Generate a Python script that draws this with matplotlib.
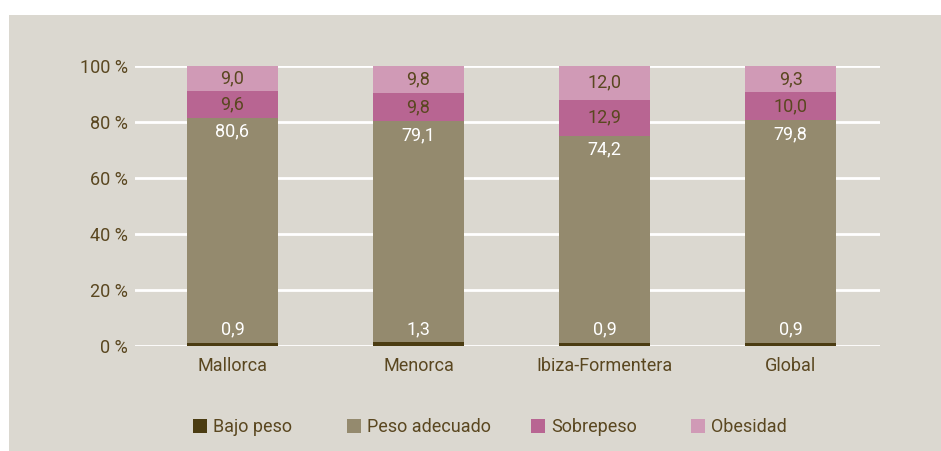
import numpy as np
import matplotlib.pyplot as plt
from matplotlib.patches import Rectangle, Patch

plt.rcParams['font.family'] = ['Roboto', 'DejaVu Sans']

islas = ['Mallorca', 'Menorca', 'Ibiza-Formentera', 'Global']
bajo_peso = [0.9, 1.3, 0.9, 0.9]
peso_adecuado = [80.6, 79.1, 74.2, 79.8]
sobrepeso = [9.6, 9.8, 12.9, 10.0]
obesidad = [9.0, 9.8, 12.0, 9.3]
series = ['Bajo peso', 'Peso adecuado', 'Sobrepeso', 'Obesidad']

colores = ['#4b3c12', '#948a6e', '#b86592', '#d09ab6']
txt = '#5a4720'
fondo = '#dbd8d0'

fig = plt.figure(figsize=(9.41, 4.51), dpi=100, facecolor='white')
fig.patches.append(Rectangle((9 / 941, 0), 1, 1 - 15 / 451, transform=fig.transFigure,
                             facecolor=fondo, edgecolor='none', zorder=-10))

ax = fig.add_axes([135 / 941, 105 / 451, 745 / 941, 280 / 451])
ax.set_facecolor(fondo)
ax.patch.set_alpha(0)

x = np.arange(len(islas))
w = 0.49
vals = [bajo_peso, peso_adecuado, sobrepeso, obesidad]
bottom = np.zeros(len(islas))
for v, c in zip(vals, colores):
    ax.bar(x, v, w, bottom=bottom, color=c, zorder=3)
    bottom = bottom + np.array(v)

fs = 13
for i in range(len(islas)):
    b, p, s, o = bajo_peso[i], peso_adecuado[i], sobrepeso[i], obesidad[i]
    ax.text(x[i], 6, f'{b:.1f}'.replace('.', ','), ha='center', va='center',
            color='white', fontsize=fs, zorder=4)
    ax.text(x[i], b + p - 5, f'{p:.1f}'.replace('.', ','), ha='center', va='center',
            color='white', fontsize=fs, zorder=4)
    ax.text(x[i], b + p + s / 2, f'{s:.1f}'.replace('.', ','), ha='center', va='center',
            color=txt, fontsize=fs, zorder=4)
    ax.text(x[i], min(b + p + s + o / 2, 100 - o / 2), f'{o:.1f}'.replace('.', ','),
            ha='center', va='center', color=txt, fontsize=fs, zorder=4)

ax.set_xlim(-0.524, 3.48)
ax.set_ylim(0, 100)
ax.set_yticks(np.arange(0, 101, 20))
ax.set_yticklabels([f'{t} %' for t in range(0, 101, 20)])
ax.set_xticks(x)
ax.set_xticklabels(islas)
ax.tick_params(length=0, labelsize=fs, colors=txt)
ax.tick_params(axis='y', pad=5)
ax.tick_params(axis='x', pad=8)
ax.yaxis.grid(True, color='white', linewidth=2)
ax.set_axisbelow(True)
for sp in ax.spines.values():
    sp.set_visible(False)

leg_x = [193, 347, 531, 691]
for nombre, c, lx in zip(series, colores, leg_x):
    lg = fig.legend(handles=[Patch(facecolor=c, edgecolor='none')], labels=[nombre],
                    loc='center left', bbox_to_anchor=(lx / 941, 1 - 427 / 451),
                    frameon=False, fontsize=fs, handlelength=0.8, handleheight=0.8,
                    handletextpad=0.3, borderaxespad=0, borderpad=0)
    for t in lg.get_texts():
        t.set_color(txt)

fig.savefig('out.png', dpi=100, facecolor=fig.get_facecolor())
